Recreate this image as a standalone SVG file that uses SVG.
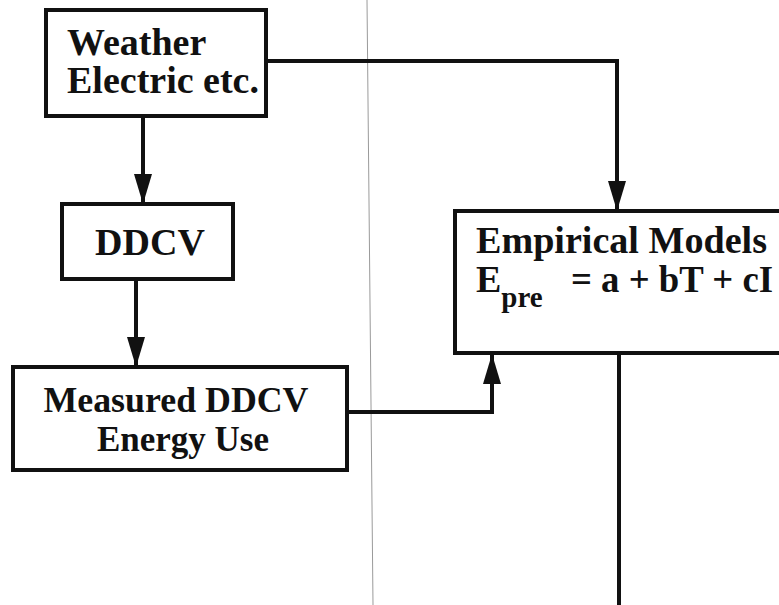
<svg xmlns="http://www.w3.org/2000/svg" width="779" height="605" viewBox="0 0 779 605">
  <style>
    .box { fill: #fff; stroke: #111; stroke-width: 4; }
    .t { font-family: "Liberation Serif", "Times New Roman", serif; font-weight: bold; font-size: 38px; fill: #111; }
    .sm { font-size: 35px; }
    .sub { font-size: 29px; }
    .conn { fill: none; stroke: #111; stroke-width: 4; }
    .guide { stroke: #9a9a9a; stroke-width: 1; }
  </style>
  <defs>
    <marker id="ah" markerUnits="userSpaceOnUse" markerWidth="30" markerHeight="20" viewBox="0 0 30 20" refX="29" refY="10" orient="auto">
      <path d="M0,1 L30,10 L0,19 Z" fill="#111"/>
    </marker>
  </defs>
  <rect width="779" height="605" fill="#fff"/>
  <line class="guide" x1="367" y1="0" x2="373" y2="605"/>
  <g id="connectors">
    <path class="conn" d="M143,116 V203" marker-end="url(#ah)"/>
    <path class="conn" d="M136,279 V366" marker-end="url(#ah)"/>
    <path class="conn" d="M266,61 H617 V210" marker-end="url(#ah)"/>
    <path class="conn" d="M347,412 H492 V355" marker-end="url(#ah)"/>
    <path class="conn" d="M619,353 V605"/>
  </g>
  <g id="weather">
    <rect class="box" x="46" y="10" width="220" height="106"/>
    <text class="t" x="67" y="55">Weather</text>
    <text class="t" x="67" y="93">Electric etc.</text>
  </g>
  <g id="ddcv">
    <rect class="box" x="62" y="204" width="171" height="75"/>
    <text class="t" x="150" y="255" text-anchor="middle">DDCV</text>
  </g>
  <g id="measured">
    <rect class="box" x="13" y="367" width="334" height="103"/>
    <text class="t sm" x="176" y="412" text-anchor="middle" textLength="265" lengthAdjust="spacingAndGlyphs">Measured DDCV</text>
    <text class="t sm" x="183" y="451" text-anchor="middle">Energy Use</text>
  </g>
  <g id="empirical">
    <rect class="box" x="455" y="211" width="340" height="142"/>
    <text class="t" x="476" y="253" font-size="37" textLength="291" lengthAdjust="spacingAndGlyphs">Empirical Models</text>
    <text class="t" x="476" y="292" font-size="37">E<tspan class="sub" dy="15">pre</tspan></text>
    <text class="t" x="571" y="292" font-size="37" textLength="202" lengthAdjust="spacingAndGlyphs">= a + bT + cI</text>
  </g>
</svg>
